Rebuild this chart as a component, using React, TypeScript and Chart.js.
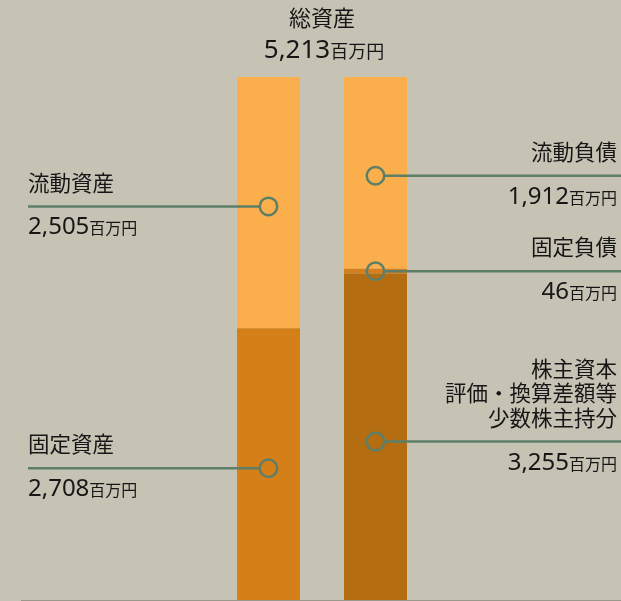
import React, { useEffect, useRef } from "react";
import { Chart, registerables } from "chart.js";

Chart.register(...registerables);

const categories = ["資産", "負債・純資産"];
const assetLabels = [["固定資産"], ["流動資産"]];
const assetValues = [2708, 2505];
const liabilityLabels = [["株主資本", "評価・換算差額等", "少数株主持分"], ["固定負債"], ["流動負債"]];
const liabilityValues = [3255, 46, 1912];
const totalLabel = "総資産";
const totalValue = 5213;
const unit = "百万円";

const assetColors = ["#d57f19", "#fbaf4c"];
const liabilityColors = ["#b56d12", "#d4801e", "#fbaf4c"];

const BG = "#c6c3b4";
const LINE = "#5d7f68";
const TEXT = "#161616";
const FONT = '"Noto Sans", "Noto Sans CJK JP", sans-serif';

const fmt = (v: number) => v.toLocaleString("en-US");

function drawValue(ctx: CanvasRenderingContext2D, value: number, x: number, y: number, align: "left" | "right" | "center", big: number, small: number) {
  const vt = fmt(value);
  ctx.font = `${big}px ${FONT}`;
  const w1 = ctx.measureText(vt).width;
  ctx.font = `${small}px ${FONT}`;
  const w2 = ctx.measureText(unit).width;
  const total = w1 + w2;
  let sx = x;
  if (align === "right") sx = x - total;
  else if (align === "center") sx = x - total / 2;
  ctx.textAlign = "left";
  ctx.textBaseline = "alphabetic";
  ctx.fillStyle = TEXT;
  ctx.font = `${big}px ${FONT}`;
  ctx.fillText(vt, sx, y);
  ctx.font = `${small}px ${FONT}`;
  ctx.fillText(unit, sx + w1, y);
}

const calloutPlugin = {
  id: "callouts",
  beforeDraw(chart: any) {
    const { ctx, width, height } = chart;
    ctx.save();
    ctx.fillStyle = BG;
    ctx.fillRect(0, 0, width, height);
    ctx.restore();
  },
  afterDatasetsDraw(chart: any) {
    const { ctx, width, chartArea } = chart;
    ctx.save();
    ctx.strokeStyle = "#9a9889";
    ctx.lineWidth = 1;
    ctx.beginPath();
    ctx.moveTo(21, chartArea.bottom + 0.5);
    ctx.lineTo(width, chartArea.bottom + 0.5);
    ctx.stroke();

    const r = 8.75;
    chart.data.datasets.forEach((ds: any, di: number) => {
      const meta = chart.getDatasetMeta(di);
      const idx = ds.data.findIndex((v: any) => v !== null);
      const el: any = meta.data[idx];
      const cx = el.x;
      const cy = el.y + (el.base - el.y) * 0.515;
      const left = idx === 0;
      const labels: string[] = ds.calloutLines;
      ctx.strokeStyle = LINE;
      ctx.lineWidth = 2.5;
      ctx.beginPath();
      if (left) {
        ctx.moveTo(28, cy);
        ctx.lineTo(cx - r, cy);
      } else {
        ctx.moveTo(cx + r, cy);
        ctx.lineTo(width, cy);
      }
      ctx.stroke();
      ctx.beginPath();
      ctx.arc(cx, cy, r, 0, Math.PI * 2);
      ctx.stroke();

      ctx.fillStyle = TEXT;
      ctx.font = `21.5px ${FONT}`;
      ctx.textBaseline = "middle";
      ctx.textAlign = left ? "left" : "right";
      const tx = left ? 28 : 617;
      const n = labels.length;
      labels.forEach((t, i) => {
        ctx.fillText(t, tx, cy - 22 - (n - 1 - i) * 24.5);
      });
      drawValue(ctx, ds.data[idx], tx, cy + 28, left ? "left" : "right", 24, 16);
    });

    const mid = (chartArea.left + chartArea.right) / 2;
    ctx.fillStyle = TEXT;
    ctx.font = `22px ${FONT}`;
    ctx.textAlign = "center";
    ctx.textBaseline = "middle";
    ctx.fillText(totalLabel, mid, 20);
    drawValue(ctx, totalValue, mid + 2, 58, "center", 26, 18);
    ctx.restore();
  },
};

export default function App() {
  const ref = useRef<HTMLCanvasElement>(null);
  useEffect(() => {
    document.body.style.margin = "0";
    const datasets: any[] = [];
    assetValues.forEach((v, i) => {
      datasets.push({
        label: assetLabels[i].join(""),
        data: [v, null],
        backgroundColor: assetColors[i],
        calloutLines: assetLabels[i],
      });
    });
    liabilityValues.forEach((v, i) => {
      datasets.push({
        label: liabilityLabels[i].join(""),
        data: [null, v],
        backgroundColor: liabilityColors[i],
        calloutLines: liabilityLabels[i],
      });
    });
    const chart = new Chart(ref.current!, {
      type: "bar",
      data: { labels: categories, datasets },
      options: {
        animation: false,
        responsive: false,
        maintainAspectRatio: false,
        layout: { padding: { left: 215, right: 192, top: 77, bottom: 1 } },
        datasets: { bar: { categoryPercentage: 1, barPercentage: 63 / 107, borderWidth: 0 } },
        plugins: { legend: { display: false }, tooltip: { enabled: false }, title: { display: false } },
        scales: {
          x: { stacked: true, display: false },
          y: { stacked: true, display: false, min: 0, max: totalValue },
        },
      } as any,
      plugins: [calloutPlugin],
    });
    return () => chart.destroy();
  }, []);
  return <canvas ref={ref} width={621} height={601} style={{ display: "block" }} />;
}
